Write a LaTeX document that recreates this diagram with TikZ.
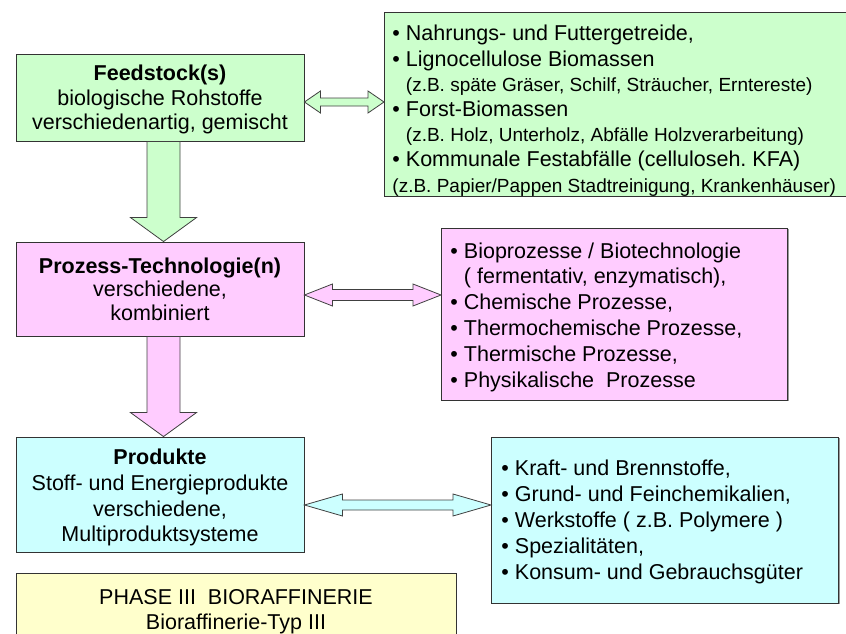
\documentclass[tikz,border=0pt]{standalone}
\usepackage{fontspec}
\setmainfont{Liberation Sans}
\usetikzlibrary{calc, shadows}
\frenchspacing

\definecolor{feedgreen}{HTML}{CCFFCC}
\definecolor{prozpink}{HTML}{FFCCFF}
\definecolor{prodcyan}{HTML}{CCFFFF}
\definecolor{phaseyellow}{HTML}{FFFFCC}

\tikzset{
  box/.style={draw=black!80, line width=0.9pt, inner sep=0pt, align=center,
    drop shadow={shadow xshift=1.2pt, shadow yshift=-1.2pt, fill=black!40, opacity=1},
    font=\fontsize{21.5}{24.5}\selectfont},
  listbox/.style={box, align=flush left, anchor=west},
  blockarrow/.style={draw=black!75, line width=0.8pt, line join=miter}
}

% double block arrow: from, to, shaft half, head half, head length, colour
\newcommand{\dblarrow}[6]{%
  \draw [blockarrow, fill=#6] let \p1=#1, \p2=#2 in
    (\x1,\y1) -- (\x1+#5,\y1+#4) -- (\x1+#5,\y1+#3) -- (\x2-#5,\y1+#3)
    -- (\x2-#5,\y1+#4) -- (\x2,\y1) -- (\x2-#5,\y1-#4) -- (\x2-#5,\y1-#3)
    -- (\x1+#5,\y1-#3) -- (\x1+#5,\y1-#4) -- cycle;}
% down block arrow: from, to, shaft half, head half, head length, colour
\newcommand{\dnarrow}[6]{%
  \draw [blockarrow, fill=#6] let \p1=#1, \p2=#2 in
    (\x1-#3,\y1) -- (\x1-#3,\y2+#5) -- (\x1-#4,\y2+#5) -- (\x1,\y2)
    -- (\x1+#4,\y2+#5) -- (\x1+#3,\y2+#5) -- (\x1+#3,\y1) -- cycle;}
\newcommand{\zb}[1]{{\fontsize{19}{25.2}\selectfont #1}}
\newcommand{\ind}{\hphantom{•\ }}
% pushes a centred text block down by half of #1
\newcommand{\pushdown}[1]{\rule{0pt}{\dimexpr\fontcharht\font`\(+#1\relax}}

\begin{document}
\begin{tikzpicture}[x=1pt, y=-1pt]
  \useasboundingbox (0,0) rectangle (846,634);

  \coordinate (g) at (0,102);
  \coordinate (p) at (0,295);
  \coordinate (c) at (0,505);
  \coordinate (dn) at (163.5,0);

  % left column
  \node [box, fill=feedgreen, minimum width=288pt, minimum height=87pt] (feed) at (160,97.5)
    {\pushdown{5pt}\textbf{Feedstock(s)}\\biologische Rohstoffe\\verschiedenartig, gemischt};
  \node [box, fill=prozpink, minimum width=288pt, minimum height=94pt,
    font=\fontsize{21.5}{23.5}\selectfont] (proz) at (160,289)
    {\textbf{Prozess-Technologie(n)}\\verschiedene,\\kombiniert};
  \node [box, fill=prodcyan, minimum width=288pt, minimum height=115pt,
    font=\fontsize{21.5}{25.7}\selectfont] (prod) at (160,494.5)
    {\pushdown{7pt}\textbf{Produkte}\\Stoff- und Energieprodukte\\verschiedene,\\Multiproduktsysteme};
  \node [box, fill=phaseyellow, minimum width=440pt, minimum height=74pt] (phase) at (236,610)
    {\pushdown{4pt}PHASE III\ \ BIORAFFINERIE\\Bioraffinerie-Typ III};

  % right column
  \node [listbox, fill=feedgreen, text width=460pt, inner xsep=8pt, minimum height=184pt,
    font=\fontsize{21.5}{25.2}\selectfont] (feedlist) at (384,104)
    {\pushdown{14pt}• Nahrungs- und Futtergetreide,\\
     • Lignocellulose Biomassen\\
     \ind\zb{(z.B. späte Gräser, Schilf, Sträucher, Erntereste)}\\
     • Forst-Biomassen\\
     \ind\zb{(z.B. Holz, Unterholz, Abfälle Holzverarbeitung)}\\
     • Kommunale Festabfälle (celluloseh. KFA)\\
     \zb{(z.B. Papier/Pappen Stadtreinigung, Krankenhäuser)}};
  \node [listbox, fill=prozpink, text width=328pt, inner xsep=9pt, minimum height=172pt,
    font=\fontsize{21.5}{25.8}\selectfont] (prozlist) at (441,314)
    {\pushdown{7pt}• Bioprozesse / Biotechnologie\\
     \ind( fermentativ, enzymatisch),\\
     • Chemische Prozesse,\\
     • Thermochemische Prozesse,\\
     • Thermische Prozesse,\\
     • Physikalische\ \ Prozesse};
  \node [listbox, fill=prodcyan, text width=327pt, inner xsep=10pt, minimum height=166pt,
    font=\fontsize{21.5}{26}\selectfont] (prodlist) at (491,520)
    {\pushdown{4pt}• Kraft- und Brennstoffe,\\
     • Grund- und Feinchemikalien,\\
     • Werkstoffe ( z.B. Polymere )\\
     • Spezialitäten,\\
     • Konsum- und Gebrauchsgüter};

  % block arrows
  \dblarrow{(feed.east |- g)}{(feedlist.west |- g)}{4pt}{11pt}{16pt}{feedgreen}
  \dblarrow{(proz.east |- p)}{(prozlist.west |- p)}{5.5pt}{11pt}{28pt}{prozpink}
  \dblarrow{(prod.east |- c)}{(prodlist.west |- c)}{5pt}{11pt}{38pt}{prodcyan}
  \dnarrow{(feed.south -| dn)}{(proz.north -| dn)}{16.5pt}{33pt}{24pt}{feedgreen}
  \dnarrow{(proz.south -| dn)}{(prod.north -| dn)}{16.5pt}{33pt}{24pt}{prozpink}
\end{tikzpicture}
\end{document}
